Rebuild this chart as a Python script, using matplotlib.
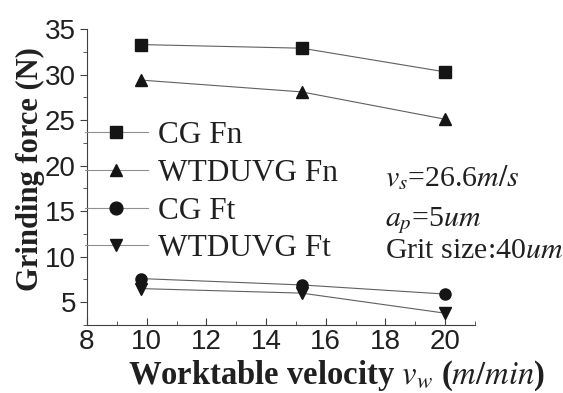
import numpy as np
import matplotlib.pyplot as plt
from matplotlib.ticker import MultipleLocator

plt.rcParams['mathtext.fontset'] = 'stix'

# data
velocity = [9.8, 15.2, 20.0]
cg_fn = [33.3, 32.9, 30.3]
wtduvg_fn = [29.4, 28.1, 25.1]
cg_ft = [7.6, 6.9, 5.9]
wtduvg_ft = [6.5, 6.0, 3.8]

series = [
    ('CG Fn', cg_fn, 's'),
    ('WTDUVG Fn', wtduvg_fn, '^'),
    ('CG Ft', cg_ft, 'o'),
    ('WTDUVG Ft', wtduvg_ft, 'v'),
]

fig = plt.figure(figsize=(5.63, 3.93), dpi=100)
ax = fig.add_axes([0.1545, 0.173, 0.689, 0.753])

for name, vals, mk in series:
    ax.plot(velocity, vals, color='#606060', lw=0.8, marker=mk, ms=8,
            mfc='#151515', mec='#151515', label=name)

ax.set_xlim(8, 21)
ax.set_ylim(2.5, 35)
ax.xaxis.set_major_locator(MultipleLocator(2))
ax.xaxis.set_minor_locator(MultipleLocator(1))
ax.yaxis.set_minor_locator(MultipleLocator(2.5))
ax.set_yticks([5, 10, 15, 20, 25, 30, 35])

for s in ['top', 'right']:
    ax.spines[s].set_visible(False)
for s in ['left', 'bottom']:
    ax.spines[s].set_color('#404040')

ax.tick_params(axis='x', which='both', direction='in', colors='#404040')
ax.tick_params(axis='y', which='both', direction='out', colors='#404040')
ax.tick_params(which='major', length=5, labelsize=20, labelcolor='#202020', pad=3)
ax.tick_params(which='minor', length=3)
for lab in ax.get_xticklabels() + ax.get_yticklabels():
    lab.set_fontfamily('Liberation Sans')

ax.set_xlabel(r'Worktable velocity $v_w$ ($m/min$)', family='Liberation Serif',
              fontweight='bold', fontsize=23.5, color='#202020', va='center')
ax.set_ylabel('Grinding force (N)', family='Liberation Serif',
              fontweight='bold', fontsize=22, color='#202020', va='center')
ax.xaxis.set_label_coords(0.642, -0.17)
ax.yaxis.set_label_coords(-0.145, 0.527)

leg = ax.legend(loc='center left', bbox_to_anchor=(-0.005, 0.449), frameon=False,
                prop={'family': 'Liberation Serif', 'size': 22.5},
                handlelength=2.0, handletextpad=0.32, labelspacing=0.28,
                borderpad=0, borderaxespad=0, markerscale=1.15)
for h in leg.get_lines():
    h.set_color('#909090')
for t in leg.get_texts():
    t.set_color('#202020')

ax.text(0.768, 0.497, r'$v_s$=26.6$m/s$', transform=ax.transAxes,
        family='Liberation Serif', fontsize=21.5, color='#202020', va='center')
ax.text(0.768, 0.352, r'$a_p$=5$um$', transform=ax.transAxes,
        family='Liberation Serif', fontsize=21.5, color='#202020', va='center')
ax.text(0.768, 0.25, r'Grit size:40$um$', transform=ax.transAxes,
        family='Liberation Serif', fontsize=21.5, color='#202020', va='center')

fig.savefig('out.png', dpi=100)
